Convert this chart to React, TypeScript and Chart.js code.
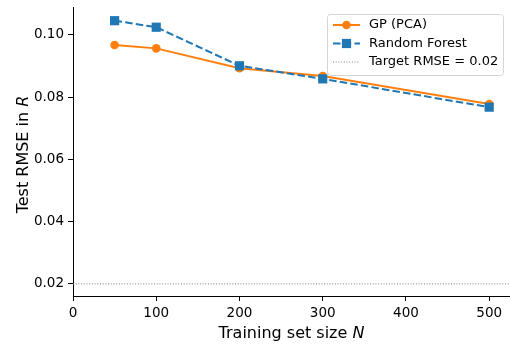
import React, { useEffect, useRef } from "react";
import { Chart, registerables } from "chart.js";

Chart.register(...registerables);

const sizes = [50, 100, 200, 300, 500];
const gpValues = [0.0968, 0.0957, 0.0893, 0.0868, 0.0778];
const rfValues = [0.1046, 0.1025, 0.0901, 0.0859, 0.0768];
const targetRmse = 0.02;
const xTicks = [0, 100, 200, 300, 400, 500];
const yTicks = [0.02, 0.04, 0.06, 0.08, 0.1];

const FONT = "'DejaVu Sans', sans-serif";
const ORANGE = "#ff7f0e";
const BLUE = "#1f77b4";

const overlayPlugin = {
  id: "overlay",
  afterDraw(chart: any) {
    const ctx = chart.ctx;
    const area = chart.chartArea;
    ctx.save();
    ctx.fillStyle = "#000";
    ctx.textBaseline = "alphabetic";
    const xNormal = "Training set size ";
    ctx.font = `16px ${FONT}`;
    const w1 = ctx.measureText(xNormal).width;
    ctx.font = `italic 16px ${FONT}`;
    const w2 = ctx.measureText("N").width;
    const cx = (area.left + area.right) / 2;
    const sx = cx - (w1 + w2) / 2;
    ctx.font = `16px ${FONT}`;
    ctx.textAlign = "left";
    ctx.fillText(xNormal, sx, 338);
    ctx.font = `italic 16px ${FONT}`;
    ctx.fillText("N", sx + w1, 338);

    ctx.save();
    const cy = (area.top + area.bottom) / 2 + 3;
    ctx.translate(28, cy);
    ctx.rotate(-Math.PI / 2);
    const yNormal = "Test RMSE in ";
    ctx.font = `16px ${FONT}`;
    const y1 = ctx.measureText(yNormal).width;
    ctx.font = `italic 16px ${FONT}`;
    const y2 = ctx.measureText("R").width;
    const sy = -(y1 + y2) / 2;
    ctx.font = `16px ${FONT}`;
    ctx.fillText(yNormal, sy, 0);
    ctx.font = `italic 16px ${FONT}`;
    ctx.fillText("R", sy + y1, 0);
    ctx.restore();

    const bx = 327.5, by = 14.5, bw = 176, bh = 61, r = 3;
    ctx.beginPath();
    ctx.moveTo(bx + r, by);
    ctx.lineTo(bx + bw - r, by);
    ctx.arcTo(bx + bw, by, bx + bw, by + r, r);
    ctx.lineTo(bx + bw, by + bh - r);
    ctx.arcTo(bx + bw, by + bh, bx + bw - r, by + bh, r);
    ctx.lineTo(bx + r, by + bh);
    ctx.arcTo(bx, by + bh, bx, by + bh - r, r);
    ctx.lineTo(bx, by + r);
    ctx.arcTo(bx, by, bx + r, by, r);
    ctx.closePath();
    ctx.fillStyle = "rgba(255,255,255,0.8)";
    ctx.fill();
    ctx.strokeStyle = "#d6d6d6";
    ctx.lineWidth = 1;
    ctx.stroke();

    const lx1 = 333, lx2 = 360, tx = 369;
    const rows = [25, 43.5, 62];
    ctx.strokeStyle = ORANGE;
    ctx.lineWidth = 2;
    ctx.setLineDash([]);
    ctx.beginPath();
    ctx.moveTo(lx1, rows[0]);
    ctx.lineTo(lx2, rows[0]);
    ctx.stroke();
    ctx.fillStyle = ORANGE;
    ctx.beginPath();
    ctx.arc((lx1 + lx2) / 2, rows[0], 4.3, 0, Math.PI * 2);
    ctx.fill();
    ctx.strokeStyle = BLUE;
    ctx.setLineDash([7.5, 3.2]);
    ctx.beginPath();
    ctx.moveTo(lx1, rows[1]);
    ctx.lineTo(lx2, rows[1]);
    ctx.stroke();
    ctx.setLineDash([]);
    ctx.fillStyle = BLUE;
    ctx.fillRect((lx1 + lx2) / 2 - 4.6, rows[1] - 4.6, 9.2, 9.2);
    ctx.strokeStyle = "#808080";
    ctx.lineWidth = 1;
    ctx.setLineDash([1, 1.7]);
    ctx.beginPath();
    ctx.moveTo(lx1, rows[2]);
    ctx.lineTo(lx2, rows[2]);
    ctx.stroke();
    ctx.setLineDash([]);

    ctx.fillStyle = "#000";
    ctx.font = `13px ${FONT}`;
    ctx.textBaseline = "middle";
    ctx.fillText("GP (PCA)", tx, rows[0]);
    ctx.fillText("Random Forest", tx, rows[1]);
    ctx.fillText("Target RMSE = 0.02", tx, rows[2]);
    ctx.restore();
  },
};

const zeroPad = (s: any) => {
  s.paddingLeft = 0;
  s.paddingRight = 0;
  s.paddingTop = 0;
  s.paddingBottom = 0;
};

export default function App() {
  const ref = useRef<HTMLCanvasElement>(null);
  useEffect(() => {
    document.body.style.margin = "0";
    const canvas = ref.current!;
    const chart = new Chart(canvas, {
      type: "line",
      data: {
        datasets: [
          {
            label: "Target",
            data: [
              { x: 0, y: targetRmse },
              { x: 525, y: targetRmse },
            ],
            borderColor: "#808080",
            borderWidth: 1,
            borderDash: [1, 1.7],
            pointRadius: 0,
            order: 3,
          },
          {
            label: "GP (PCA)",
            data: sizes.map((s, i) => ({ x: s, y: gpValues[i] })),
            borderColor: ORANGE,
            backgroundColor: ORANGE,
            borderWidth: 2,
            pointRadius: 4.3,
            pointBorderWidth: 0,
            pointStyle: "circle",
            order: 2,
          },
          {
            label: "Random Forest",
            data: sizes.map((s, i) => ({ x: s, y: rfValues[i] })),
            borderColor: BLUE,
            backgroundColor: BLUE,
            borderWidth: 2,
            borderDash: [7.5, 3.2],
            pointRadius: 6.5,
            pointBorderWidth: 0,
            pointStyle: "rect",
            order: 1,
          },
        ],
      },
      options: {
        animation: false,
        responsive: false,
        maintainAspectRatio: false,
        layout: { autoPadding: false, padding: { top: 7, right: 0, left: 0, bottom: 0 } },
        plugins: { legend: { display: false }, tooltip: { enabled: false } },
        elements: { line: { tension: 0 } },
        scales: {
          x: {
            type: "linear",
            min: 0,
            max: 525,
            afterBuildTicks: (s: any) => {
              s.ticks = xTicks.map((v) => ({ value: v }));
            },
            afterFit: (s: any) => {
              s.height = 49;
              zeroPad(s);
            },
            ticks: {
              font: { family: FONT, size: 13.5 },
              color: "#000",
              padding: 4,
              maxRotation: 0,
              callback: (v: any) => String(v),
            },
            grid: {
              drawOnChartArea: false,
              drawTicks: true,
              tickLength: 5,
              color: "#000",
              lineWidth: 1,
            },
            border: { display: true, color: "#000", width: 1 },
          },
          y: {
            type: "linear",
            min: 0.0161,
            max: 0.109,
            afterBuildTicks: (s: any) => {
              s.ticks = yTicks.map((v) => ({ value: v }));
            },
            afterFit: (s: any) => {
              s.width = 73;
              zeroPad(s);
            },
            ticks: {
              font: { family: FONT, size: 13.5 },
              color: "#000",
              padding: 4,
              callback: (v: any) => Number(v).toFixed(2),
            },
            grid: {
              drawOnChartArea: false,
              drawTicks: true,
              tickLength: 5,
              color: "#000",
              lineWidth: 1,
            },
            border: { display: true, color: "#000", width: 1 },
          },
        },
      } as any,
      plugins: [overlayPlugin],
    });
    return () => chart.destroy();
  }, []);
  return (
    <div style={{ width: 510, height: 345 }}>
      <canvas ref={ref} width={510} height={345} style={{ display: "block" }} />
    </div>
  );
}
